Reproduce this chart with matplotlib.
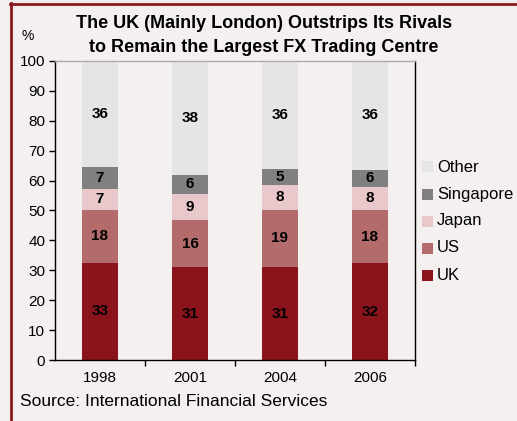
import matplotlib
matplotlib.use("Agg")
import matplotlib.pyplot as plt
from matplotlib.lines import Line2D
from matplotlib.patches import Rectangle
import numpy as np

years = ["1998", "2001", "2004", "2006"]
uk = [32.6, 31.1, 31.1, 32.4]
us = [17.7, 15.6, 19.1, 17.8]
japan = [7.0, 8.8, 8.3, 7.7]
singapore = [7.1, 6.4, 5.4, 5.7]
other = [35.6, 38.1, 36.1, 36.4]

series = [("UK", uk, "#8B141C"), ("US", us, "#B36B6B"), ("Japan", japan, "#E8C8CA"),
          ("Singapore", singapore, "#808080"), ("Other", other, "#E5E5E5")]

plt.rcParams['font.family'] = ['Liberation Sans', 'DejaVu Sans']
bg = "#F5F0F0"
W, H = 517, 421
fig = plt.figure(figsize=(W/100, H/100), dpi=100, facecolor=bg)
ax = fig.add_axes([55/W, 1-360/H, 360/W, 299/H])
ax.set_facecolor(bg)

x = np.arange(len(years))
bottom = np.zeros(len(years))
for name, vals, col in series:
    vals = np.array(vals)
    ax.bar(x, vals, 0.4, bottom=bottom, color=col, edgecolor='none')
    for xi, b, v in zip(x, bottom, vals):
        ax.text(xi, b + v/2, f"{v:.0f}", ha='center', va='center', fontsize=11, fontweight='bold', color='black')
    bottom += vals

ax.set_xlim(-0.5, 3.5)
ax.set_ylim(0, 100)
ax.set_yticks(range(0, 101, 10))
ax.set_xticks([0.5, 1.5, 2.5, 3.5])
ax.set_xticklabels([])
ax.set_xticks(x, minor=True)
ax.set_xticklabels(years, minor=True)
ax.tick_params(axis='x', which='minor', length=0, labelsize=11, pad=8)
ax.tick_params(axis='x', which='major', length=4, direction='out', width=1)
ax.tick_params(axis='y', length=4, direction='out', labelsize=11, width=1, pad=3)
for s in ['left', 'bottom', 'right']:
    ax.spines[s].set_color('black')
    ax.spines[s].set_linewidth(1)
ax.spines['top'].set_color('#AAAAAA')
ax.spines['top'].set_linewidth(1)

# legend (top to bottom: Other ... UK)
leg_y = [167, 194, 221, 248, 275]
for (name, vals, col), yy in zip(series[::-1], leg_y):
    fig.add_artist(Rectangle((422/W, 1-(yy+5.5)/H), 11/W, 11/H, transform=fig.transFigure,
                             facecolor=col, edgecolor='none'))
    fig.text(437/W, 1-yy/H, name, ha='left', va='center', fontsize=12)

fig.text(264/W, 1-24/H, "The UK (Mainly London) Outstrips Its Rivals", ha='center', va='center',
         fontsize=13, fontweight='bold')
fig.text(264/W, 1-47/H, "to Remain the Largest FX Trading Centre", ha='center', va='center',
         fontsize=13, fontweight='bold')
fig.text(21/W, 1-36/H, "%", ha='left', va='center', fontsize=10)
fig.text(20/W, 1-402/H, "Source: International Financial Services", ha='left', va='center', fontsize=12.5)

fig.add_artist(Line2D([11/W, 11/W], [0, 1-3/H], transform=fig.transFigure, color='#8B1A1F', lw=2))
fig.add_artist(Line2D([10/W, 1], [1-4/H, 1-4/H], transform=fig.transFigure, color='#8B1A1F', lw=2))

fig.savefig("out.png", dpi=100, facecolor=bg)
